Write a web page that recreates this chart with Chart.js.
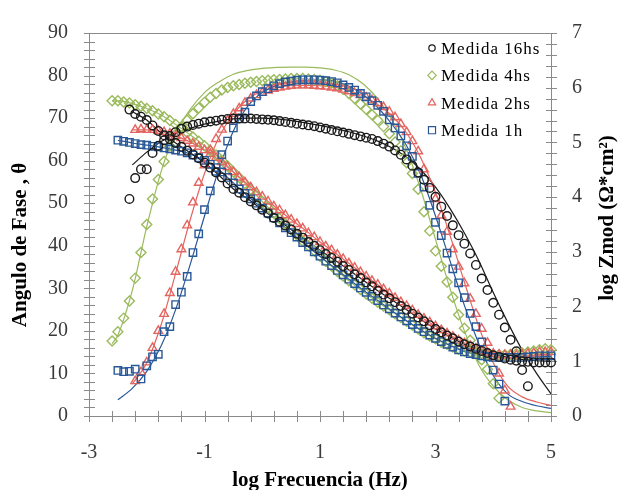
<!DOCTYPE html>
<html>
<head>
<meta charset="utf-8">
<title>Bode</title>
<script src="https://cdn.jsdelivr.net/npm/chart.js@4.4.1/dist/chart.umd.min.js"></script>
<style>
  html, body { margin: 0; padding: 0; background: #fff; }
  #wrap { width: 619px; height: 490px; }
</style>
</head>
<body>
<div id="wrap"><canvas id="bode" width="619" height="490"></canvas></div>
<script>
// log frequency (Hz) of the measured points
const logF = [-2.6, -2.5, -2.4, -2.3, -2.2, -2.1, -2.0, -1.9, -1.8, -1.7, -1.6, -1.5, -1.4, -1.3, -1.2, -1.1, -1.0, -0.9, -0.8, -0.7,
  -0.6, -0.5, -0.4, -0.3, -0.2, -0.1, 0.0, 0.1, 0.2, 0.3, 0.4, 0.5, 0.6, 0.7, 0.8, 0.9, 1.0, 1.1, 1.2, 1.3,
  1.4, 1.5, 1.6, 1.7, 1.8, 1.9, 2.0, 2.1, 2.2, 2.3, 2.4, 2.5, 2.6, 2.7, 2.8, 2.9, 3.0, 3.1, 3.2, 3.3,
  3.4, 3.5, 3.6, 3.7, 3.8, 3.9, 4.0, 4.1, 4.2, 4.3, 4.4, 4.5, 4.6, 4.7, 4.8, 4.9, 5.0];

// phase angle (degrees)
const phase16hs = [null, null, null,
  51.0, 55.9, 58.0, 58.0, 61.8, 63.5, 64.8, 65.8, 66.7, 67.5,
  68.0, 68.4, 68.7, 69.0, 69.2, 69.4, 69.6, 69.8, 69.9, 69.9,
  69.9, 69.9, 69.8, 69.7, 69.6, 69.5, 69.3, 69.1, 68.9, 68.7,
  68.5, 68.3, 68.1, 67.8, 67.5, 67.2, 66.9, 66.6, 66.3, 66.0,
  65.7, 65.4, 65.1, 64.6, 64.0, 63.3, 62.4, 61.4, 60.3, 58.8,
  57.2, 55.5, 53.6, 51.5, 49.2, 47.0, 44.8, 42.5, 40.5, 38.2,
  35.5, 32.3, 29.6, 26.6, 23.8, 20.8, 17.9, 15.2, 10.8, 7.0,
  null, null, null, null];
const phase4hs = [17.6, 19.8, 23.0, 27.0, 32.4, 38.4, 45.0, 51.0, 55.6, 59.8,
  63.4, 66.2, 68.0, 69.5, 71.0, 72.4, 73.7, 74.9, 75.8, 76.6,
  77.2, 77.6, 77.9, 78.2, 78.4, 78.6, 78.8, 78.9, 79.0, 79.1,
  79.2, 79.3, 79.3, 79.3, 79.2, 79.1, 78.9, 78.6, 78.2, 77.6,
  76.8, 75.8, 74.6, 73.3, 72.1, 70.8, 69.5, 68.0, 66.3, 64.4,
  62.3, 59.5, 57.0, 53.3, 48.0, 43.5, 38.8, 35.2, 31.5, 27.9,
  23.8, 20.6, 17.8, 15.4, 13.2, 11.0, 7.6, 4.2,
  null, null, null, null, null, null, null, null, null];
const phase2hs = [null, null, null, null,
  8.2, 10.3, 12.6, 16.0, 20.0, 24.0, 28.9, 33.9, 39.2, 44.8,
  50.2, 54.8, 58.9, 62.5, 65.1, 67.3, 69.4, 71.0, 72.3, 73.6,
  74.6, 75.4, 76.0, 76.5, 76.9, 77.2, 77.4, 77.6, 77.7, 77.7,
  77.7, 77.6, 77.5, 77.4, 77.2, 77.0, 76.7, 76.3, 75.9, 75.4,
  74.8, 74.2, 73.5, 72.6, 71.5, 70.2, 68.6, 66.7, 64.6, 62.2,
  58.0, 54.6, 51.0, 47.1, 43.3, 39.2, 35.1, 31.2, 27.6, 24.0,
  20.5, 17.2, 13.9, 10.0, 6.0, 2.2,
  null, null, null, null, null, null, null];
const phase1h = [null,
  10.7, 10.4, 10.5, 11.0, 8.7, 11.8, 13.9, 14.5, 19.8, 21.0,
  26.2, 29.1, 32.8, 38.4, 42.8, 48.5, 52.9, 57.5, 61.4, 64.6,
  67.7, 69.8, 71.4, 73.9, 75.2, 76.2, 76.9, 77.6, 78.1, 78.5,
  78.7, 78.9, 79.0, 79.0, 79.0, 78.9, 78.8, 78.6, 78.3, 77.8,
  77.2, 76.6, 75.8, 75.0, 74.1, 73.0, 71.6, 69.6, 67.7, 65.8,
  63.5, 61.0, 57.0, 53.8, 49.5, 45.5, 42.4, 38.3, 34.6, 31.3,
  27.8, 24.1, 21.0, 17.4, 14.0, 10.8, 7.5, 3.5,
  null, null, null, null, null, null, null, null];

// log Zmod (ohm*cm2)
const zmod16hs = [null, null, null,
  5.60, 5.52, 5.47, 5.41, 5.31, 5.21, 5.13, 5.06, 4.99, 4.92,
  4.85, 4.78, 4.71, 4.63, 4.54, 4.45, 4.36, 4.25, 4.15, 4.08,
  4.00, 3.92, 3.85, 3.77, 3.70, 3.62, 3.55, 3.48, 3.41, 3.33,
  3.26, 3.18, 3.11, 3.03, 2.96, 2.89, 2.82, 2.74, 2.67, 2.59,
  2.52, 2.44, 2.37, 2.29, 2.22, 2.15, 2.08, 2.01, 1.94, 1.87,
  1.80, 1.73, 1.66, 1.59, 1.53, 1.47, 1.42, 1.36, 1.31, 1.27,
  1.23, 1.19, 1.15, 1.11, 1.08, 1.05, 1.03, 1.01, 1.00, 0.99,
  0.98, 0.98, 0.98, 0.98];
const zmod4hs = [5.76, 5.76, 5.74, 5.72, 5.69, 5.66, 5.62, 5.58, 5.52, 5.47,
  5.40, 5.33, 5.26, 5.18, 5.10, 5.02, 4.94, 4.85, 4.77, 4.67,
  4.57, 4.46, 4.36, 4.25, 4.14, 4.03, 3.92, 3.81, 3.71, 3.61,
  3.51, 3.41, 3.31, 3.20, 3.11, 3.02, 2.92, 2.83, 2.74, 2.64,
  2.56, 2.47, 2.40, 2.31, 2.23, 2.15, 2.08, 2.01, 1.94, 1.87,
  1.80, 1.73, 1.66, 1.59, 1.52, 1.46, 1.41, 1.35, 1.31, 1.26,
  1.22, 1.19, 1.17, 1.15, 1.14, 1.13, 1.12, 1.12, 1.12, 1.13,
  1.14, 1.15, 1.17, 1.19, 1.21, 1.23, 1.21];
const zmod2hs = [null, null, null, null,
  5.23, 5.24, 5.23, 5.23, 5.21, 5.19, 5.16, 5.12, 5.08, 5.03,
  4.98, 4.92, 4.86, 4.79, 4.72, 4.64, 4.55, 4.46, 4.36, 4.27,
  4.18, 4.09, 4.01, 3.92, 3.83, 3.76, 3.67, 3.59, 3.51, 3.43,
  3.34, 3.27, 3.18, 3.10, 3.03, 2.95, 2.87, 2.79, 2.71, 2.63,
  2.55, 2.47, 2.40, 2.32, 2.24, 2.16, 2.08, 2.01, 1.93, 1.85,
  1.78, 1.71, 1.64, 1.57, 1.51, 1.45, 1.38, 1.33, 1.28, 1.23,
  1.19, 1.16, 1.14, 1.12, 1.11, 1.11, 1.11, 1.12, 1.14, 1.15,
  1.17, 1.17, 1.17];
const zmod1h = [null,
  5.04, 5.02, 5.00, 4.98, 4.96, 4.95, 4.93, 4.92, 4.90, 4.88,
  4.86, 4.84, 4.81, 4.77, 4.72, 4.67, 4.60, 4.54, 4.46, 4.36,
  4.26, 4.15, 4.07, 3.97, 3.89, 3.80, 3.71, 3.62, 3.53, 3.44,
  3.35, 3.27, 3.17, 3.09, 3.00, 2.92, 2.83, 2.75, 2.66, 2.58,
  2.50, 2.42, 2.34, 2.26, 2.19, 2.11, 2.03, 1.96, 1.88, 1.81,
  1.74, 1.67, 1.60, 1.54, 1.48, 1.42, 1.36, 1.31, 1.26, 1.21,
  1.17, 1.14, 1.12, 1.10, 1.08, 1.07, 1.07, 1.07, 1.07, 1.07,
  1.07, 1.08, 1.09, 1.10, 1.10, 1.10];

// fitted model curves
const fitF = [-2.6, -2.5, -2.25, -2.0, -1.75, -1.5, -1.25, -1.0, -0.75, -0.5, -0.25, 0, 0.25, 0.5, 0.75, 1.0,
  1.25, 1.5, 1.75, 2.0, 2.25, 2.5, 2.75, 3.0, 3.25, 3.5, 3.75, 4.0, 4.25, 4.5, 4.75, 5.0];
const fitPhase16hs = [null, null, 59.0, 62.0, 64.5, 66.3, 67.6, 68.6, 69.3, 69.8, 70.0, 70.0, 69.8, 69.4, 68.9, 68.3,
  67.6, 66.8, 65.8, 64.6, 63.0, 60.8, 57.8, 53.8, 48.8, 43.0, 36.5, 29.0, 22.0, 15.5, 10.0, 5.2];
const fitPhase4hs = [17.0, 19.0, 29.5, 44.5, 57.5, 66.5, 72.0, 76.0, 78.5, 80.3, 81.2, 81.7, 81.9, 82.0, 82.0, 81.8,
  81.3, 80.2, 78.0, 74.5, 69.5, 62.5, 53.0, 41.5, 30.0, 20.0, 12.0, 7.0, 3.8, 2.0, 1.2, 0.8];
const fitPhase2hs = [null, null, 7.5, 12.5, 21.5, 33.5, 46.0, 57.0, 65.5, 71.0, 74.5, 76.3, 77.2, 77.6, 77.7, 77.6,
  77.3, 76.5, 75.2, 73.2, 70.5, 66.5, 60.5, 52.5, 42.5, 31.5, 21.0, 12.5, 7.0, 4.5, 3.3, 2.5];
const fitPhase1h = [null, 3.8, 6.5, 10.5, 16.5, 25.0, 35.5, 47.0, 58.0, 67.0, 72.8, 76.0, 77.7, 78.5, 78.9, 79.0,
  78.7, 77.5, 75.5, 72.5, 68.5, 63.5, 56.5, 47.0, 36.5, 26.0, 17.0, 9.5, 5.2, 3.4, 2.4, 1.8];
const fitZmod16hs = [null, null, 5.56, 5.41, 5.17, 4.99, 4.81, 4.63, 4.40, 4.15, 3.97, 3.77, 3.59, 3.41, 3.22, 3.03,
  2.85, 2.67, 2.48, 2.29, 2.12, 1.94, 1.76, 1.59, 1.45, 1.31, 1.21, 1.13, 1.07, 1.03, 1.01, 1.00];
const fitZmod4hs = [5.76, 5.76, 5.71, 5.62, 5.50, 5.33, 5.14, 4.94, 4.72, 4.46, 4.20, 3.92, 3.66, 3.41, 3.16, 2.92,
  2.69, 2.47, 2.27, 2.08, 1.91, 1.73, 1.56, 1.41, 1.29, 1.20, 1.15, 1.12, 1.12, 1.13, 1.15, 1.16];
const fitZmod2hs = [null, null, 5.23, 5.23, 5.20, 5.12, 5.01, 4.86, 4.68, 4.46, 4.23, 4.01, 3.80, 3.59, 3.39, 3.18,
  2.99, 2.79, 2.59, 2.40, 2.20, 2.01, 1.81, 1.64, 1.48, 1.34, 1.23, 1.16, 1.12, 1.11, 1.11, 1.11];
const fitZmod1h = [null, 5.04, 4.99, 4.95, 4.91, 4.86, 4.79, 4.67, 4.50, 4.26, 4.02, 3.80, 3.58, 3.35, 3.13, 2.92,
  2.71, 2.50, 2.30, 2.11, 1.92, 1.74, 1.57, 1.42, 1.29, 1.18, 1.12, 1.08, 1.07, 1.07, 1.08, 1.09];

// axis ticks
const freqTicks = [-3, -1, 1, 3, 5];
const phaseTicks = [0, 10, 20, 30, 40, 50, 60, 70, 80, 90];
const zmodTicks = [0, 1, 2, 3, 4, 5, 6, 7];

const axisColor = '#8a8a8a';
const serif = '"Liberation Serif", "Times New Roman", serif';

// one entry per measurement; first one is drawn on top
const series = [
  { label: 'Medida 16hs', color: '#1a1a1a', style: 'circle', radius: 4.3, legendRadius: 3.2, phase: phase16hs, zmod: zmod16hs, fitPhase: fitPhase16hs, fitZmod: fitZmod16hs },
  { label: 'Medida 1h', color: '#285897', style: 'rect', radius: 5.2, legendRadius: 5, phase: phase1h, zmod: zmod1h, fitPhase: fitPhase1h, fitZmod: fitZmod1h },
  { label: 'Medida 2hs', color: '#e4645f', style: 'triangle', radius: 5, legendRadius: 4.2, phase: phase2hs, zmod: zmod2hs, fitPhase: fitPhase2hs, fitZmod: fitZmod2hs },
  { label: 'Medida 4hs', color: '#9aba5c', style: 'rectRot', radius: 5, legendRadius: 4.2, phase: phase4hs, zmod: zmod4hs, fitPhase: fitPhase4hs, fitZmod: fitZmod4hs }
];
const legendOrder = ['Medida 16hs', 'Medida 4hs', 'Medida 2hs', 'Medida 1h'];

function toPoints(xs, ys) {
  return xs.map((x, i) => ({ x: x, y: ys[i] })).filter(p => p.y !== null);
}

const datasets = [];
series.forEach(s => {
  ['phase', 'zmod'].forEach(k => {
    datasets.push({
      label: s.label,
      data: toPoints(logF, s[k]),
      yAxisID: k === 'phase' ? 'y' : 'y2',
      pointStyle: s.style,
      pointRadius: s.radius,
      pointBorderWidth: 1.4,
      pointBorderColor: s.color,
      pointBackgroundColor: 'rgba(0,0,0,0)',
      showLine: false,
      clip: false
    });
  });
});
series.forEach(s => {
  ['fitPhase', 'fitZmod'].forEach(k => {
    datasets.push({
      label: s.label + ' ajuste',
      data: toPoints(fitF, s[k]),
      yAxisID: k === 'fitPhase' ? 'y' : 'y2',
      showLine: true,
      pointRadius: 0,
      borderColor: s.color,
      borderWidth: 1.2,
      cubicInterpolationMode: 'monotone',
      fill: false
    });
  });
});

// frame: top border and tick marks crossing each axis
const frame = {
  id: 'frame',
  beforeDatasetsDraw(chart) {
    const ctx = chart.ctx;
    const a = chart.chartArea;
    const sx = chart.scales.x, sy = chart.scales.y, sy2 = chart.scales.y2;
    ctx.save();
    ctx.strokeStyle = axisColor;
    ctx.lineWidth = 1;
    ctx.beginPath();
    ctx.moveTo(a.left, Math.round(a.top) + 0.5);
    ctx.lineTo(a.right, Math.round(a.top) + 0.5);
    for (let i = 0; i <= 20; i++) {
      const px = Math.round(sx.getPixelForValue(-3 + i * 0.4)) + 0.5;
      ctx.moveTo(px, a.bottom - 5);
      ctx.lineTo(px, a.bottom + 6);
    }
    for (let i = 0; i <= 45; i++) {
      const py = Math.round(sy.getPixelForValue(i * 2)) + 0.5;
      ctx.moveTo(a.left - 5, py);
      ctx.lineTo(a.left + 6, py);
    }
    for (let i = 0; i <= 35; i++) {
      const py = Math.round(sy2.getPixelForValue(i * 0.2)) + 0.5;
      ctx.moveTo(a.right - 5, py);
      ctx.lineTo(a.right + 6, py);
    }
    ctx.stroke();
    ctx.restore();
  },
  afterDraw(chart) {
    const ctx = chart.ctx;
    const a = chart.chartArea;
    ctx.save();
    ctx.fillStyle = '#000';

    // axis titles
    ctx.font = 'bold 21px ' + serif;
    ctx.textAlign = 'center';
    ctx.textBaseline = 'alphabetic';
    ctx.fillText('log Frecuencia (Hz)', (a.left + a.right) / 2, 486);

    ctx.textBaseline = 'middle';
    ctx.save();
    ctx.translate(21, 245);
    ctx.rotate(-Math.PI / 2);
    ctx.fillText('Angulo de Fase , \u03b8', 0, 0);
    ctx.restore();

    ctx.save();
    ctx.translate(608, 218);
    ctx.rotate(-Math.PI / 2);
    ctx.fillText('log Zmod (\u03a9*cm\u00b2)', 0, 0);
    ctx.restore();

    // legend inside the plot, top right
    ctx.font = '17px ' + serif;
    ctx.textAlign = 'left';
    ctx.textBaseline = 'alphabetic';
    if ('letterSpacing' in ctx) ctx.letterSpacing = '1px';
    legendOrder.forEach((name, i) => {
      const s = series.find(d => d.label === name);
      const mx = a.right - 119;
      const my = a.top + 15 + i * 27.4;
      ctx.strokeStyle = s.color;
      ctx.fillStyle = 'rgba(0,0,0,0)';
      ctx.lineWidth = 1.2;
      Chart.helpers.drawPoint(ctx, { pointStyle: s.style, radius: s.legendRadius, rotation: 0, borderWidth: 1.2 }, mx, my);
      ctx.fillStyle = '#000';
      ctx.fillText(name, mx + 9, my + 6);
    });
    ctx.restore();
  }
};

const tickFont = { family: serif, size: 20 };

new Chart(document.getElementById('bode'), {
  type: 'scatter',
  data: { datasets: datasets },
  options: {
    responsive: false,
    animation: false,
    devicePixelRatio: 1,
    events: [],
    layout: { padding: { top: 20, left: 0, right: 0, bottom: 0 } },
    plugins: {
      legend: { display: false },
      tooltip: { enabled: false }
    },
    scales: {
      x: {
        type: 'linear',
        position: 'bottom',
        min: -3,
        max: 5,
        afterBuildTicks: scale => { scale.ticks = freqTicks.map(v => ({ value: v })); },
        afterFit: scale => { scale.height = 74; },
        grid: { display: false, drawTicks: false },
        border: { display: true, color: axisColor, width: 1 },
        ticks: { font: tickFont, color: '#3a3a3a', padding: 25, maxRotation: 0 }
      },
      y: {
        type: 'linear',
        position: 'left',
        min: 0,
        max: 90,
        afterBuildTicks: scale => { scale.ticks = phaseTicks.map(v => ({ value: v })); },
        afterFit: scale => { scale.width = 89; },
        grid: { display: false, drawTicks: false },
        border: { display: true, color: axisColor, width: 1 },
        ticks: { font: tickFont, color: '#3a3a3a', padding: 21 }
      },
      y2: {
        type: 'linear',
        position: 'right',
        min: 0,
        max: 7,
        afterBuildTicks: scale => { scale.ticks = zmodTicks.map(v => ({ value: v })); },
        afterFit: scale => { scale.width = 68; },
        grid: { display: false, drawTicks: false },
        border: { display: true, color: axisColor, width: 1 },
        ticks: { font: tickFont, color: '#3a3a3a', padding: 21 }
      }
    }
  },
  plugins: [frame]
});
</script>
</body>
</html>
